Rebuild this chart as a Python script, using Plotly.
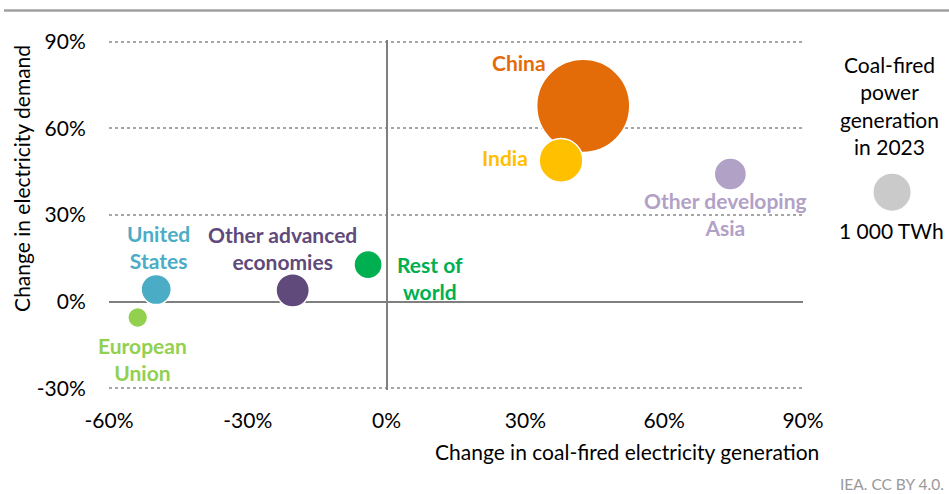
import plotly.graph_objects as go

# ---- data ----
regions = ["China", "India", "Other developing Asia", "United States",
           "Other advanced economies", "Rest of world", "European Union"]
coal_gen_change = [42.5, 37.7, 74.3, -49.8, -20.3, -4.0, -53.8]     # % x
demand_change = [67.8, 48.9, 44.2, 4.2, 3.9, 12.8, -5.5]            # % y
coal_gen_2023 = [5850, 1290, 700, 615, 750, 535, 265]               # TWh (bubble size)
colors = ["#E36C09", "#FFC000", "#B2A1C7", "#4BACC6", "#604A7B", "#00B050", "#92D050"]

legend_value = [1000]            # TWh
legend_label = "1 000 TWh"
x_ticks = [-60, -30, 0, 30, 60, 90]
y_ticks = [-30, 0, 30, 60, 90]
x_ticktext = ["%d%%" % v for v in x_ticks]
y_ticktext = ["%d%%" % v for v in y_ticks]

FONT = "Lato"
FS = 21
REF_D = 38.5                                  # px diameter for 1000 TWh
sizeref = 2 * legend_value[0] / REF_D ** 2
Y_RANGE = [-30.6, 90.6]

fig = go.Figure()
fig.add_trace(go.Scatter(
    x=coal_gen_change, y=demand_change, mode="markers",
    marker=dict(size=coal_gen_2023, sizemode="area", sizeref=sizeref,
                color=colors, opacity=1, line=dict(color="white", width=1.5)),
    hoverinfo="text", text=regions, showlegend=False, cliponaxis=False))

# size legend bubble in its own small subplot to the right
fig.add_trace(go.Scatter(
    x=[0.61], y=[37.9], mode="markers", xaxis="x2", yaxis="y2",
    marker=dict(size=legend_value, sizemode="area", sizeref=sizeref,
                color="#B5B5B5", line=dict(color="white", width=1.5)),
    showlegend=False, hoverinfo="skip"))

# region labels
labels = [
    ("China", 28.6, 82.8, "#E36C09"),
    ("India", 25.6, 49.9, "#FFC000"),
    ("Other developing<br>Asia", 73.3, 30.3, "#B2A1C7"),
    ("United<br>States", -49.4, 18.8, "#4BACC6"),
    ("Other advanced<br>economies", -22.6, 18.5, "#604A7B"),
    ("Rest of<br>world", 9.4, 8.2, "#00B050"),
    ("European<br>Union", -52.7, -19.7, "#92D050"),
]
for txt, lx, ly, c in labels:
    fig.add_annotation(x=lx, y=ly, xref="x", yref="y", text="<b>%s</b>" % txt,
                       showarrow=False, font=dict(family=FONT, size=FS, color=c),
                       align="center", xanchor="center", yanchor="middle")

# legend text
fig.add_annotation(x=0.9286, y=0.813, xref="paper", yref="paper",
                   text="Coal-fired<br>power<br>generation<br>in 2023",
                   showarrow=False, font=dict(family=FONT, size=FS, color="black"),
                   align="center", xanchor="center", yanchor="middle")
fig.add_annotation(x=0.931, y=0.457, xref="paper", yref="paper", text=legend_label,
                   showarrow=False, font=dict(family=FONT, size=FS, color="black"),
                   xanchor="center", yanchor="middle")

# axis titles
fig.add_annotation(x=-0.1036, y=0.606, xref="paper", yref="paper",
                   text="Change in electricity demand", textangle=-90,
                   showarrow=False, font=dict(family=FONT, size=FS, color="black"),
                   xanchor="center", yanchor="middle")
fig.add_annotation(x=0.6167, y=-0.177, xref="paper", yref="paper",
                   text="Change in coal-fired electricity generation",
                   showarrow=False, font=dict(family=FONT, size=FS, color="black"),
                   xanchor="center", yanchor="middle")
fig.add_annotation(x=0.9964, y=-0.2686, xref="paper", yref="paper", xanchor="right",
                   yanchor="middle",
                   text="IEA. CC BY 4.0.", showarrow=False,
                   font=dict(family=FONT, size=15.5, color="#999999"))

# top rule
fig.add_shape(type="line", xref="paper", yref="paper", x0=-0.125, x1=1.0,
              y0=1.0843, y1=1.0843, line=dict(color="#A0A0A0", width=2.5))

fig.update_layout(
    xaxis=dict(domain=[0, 694 / 840], range=[-60, 90], tickvals=x_ticks, ticktext=x_ticktext,
               showgrid=False, zeroline=True, zerolinecolor="#7F7F7F", zerolinewidth=1.5,
               showline=False, ticks="outside", ticklen=12, tickcolor="rgba(0,0,0,0)",
               tickfont=dict(family=FONT, size=FS, color="black"), fixedrange=True,
               automargin=False),
    yaxis=dict(range=Y_RANGE, tickvals=y_ticks, ticktext=y_ticktext,
               showgrid=True, gridcolor="#A6A6A6", griddash="dot", gridwidth=1.5,
               zeroline=True, zerolinecolor="#7F7F7F", zerolinewidth=1.5,
               showline=False, ticks="outside", ticklen=18, tickcolor="rgba(0,0,0,0)",
               tickfont=dict(family=FONT, size=FS, color="black"), fixedrange=True,
               automargin=False),
    xaxis2=dict(domain=[694 / 840, 1.0], range=[0, 1], anchor="y2", visible=False,
                fixedrange=True, automargin=False),
    yaxis2=dict(domain=[0, 1], range=Y_RANGE, anchor="x2", visible=False,
                fixedrange=True, automargin=False),
    width=949, height=494,
    margin=dict(l=109, r=0, t=40, b=104, autoexpand=False),
    plot_bgcolor="white", paper_bgcolor="white", font=dict(family=FONT))

# remove the browser's default 8px body margin so the figure fills the window
fig.write_html("out.html",
               config={"displayModeBar": False},
               post_script="document.body.style.margin='0';"
                           "document.body.style.overflow='hidden';")
